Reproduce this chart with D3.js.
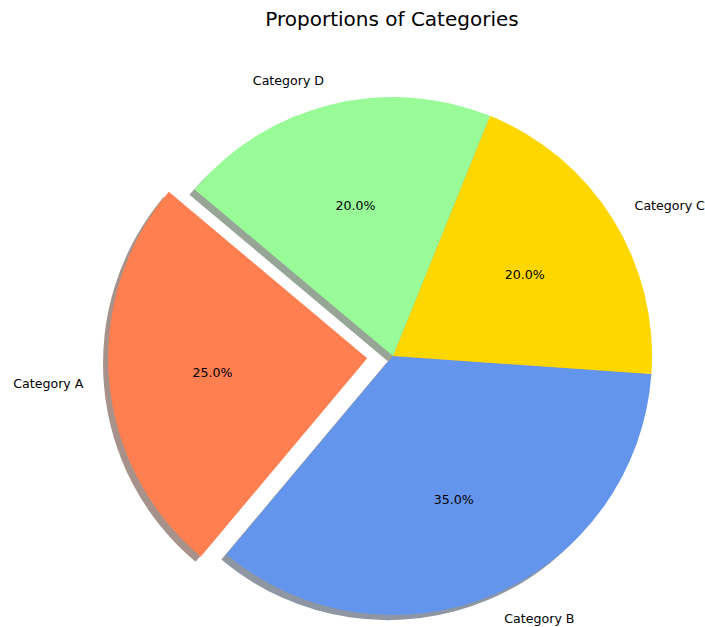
<!DOCTYPE html>
<html>
<head>
<meta charset="utf-8">
<script src="https://cdn.jsdelivr.net/npm/d3@7"></script>
<style>
  body { margin: 0; background: #fff; }
  text { font-family: "DejaVu Sans", sans-serif; }
</style>
</head>
<body>
<svg id="chart" width="705" height="627"></svg>
<script>
// Kreis-Diagramm
const categories = ["Category A", "Category B", "Category C", "Category D"];
const values = [25, 35, 20, 20];
const explode = [0.1, 0, 0, 0];

const palette = ["#FF7F50", "#6495ED", "#FFD700", "#98FB98"];

const svg = d3.select("#chart");
const cx = 393, cy = 356, r = 259;

svg.append("text")
    .attr("x", 392)
    .attr("y", 26)
    .attr("text-anchor", "middle")
    .attr("font-size", "20px")
    .attr("fill", "#000")
    .text("Proportions of Categories");

const total = d3.sum(values);

// startangle 140 (matplotlib), gegen den Uhrzeigersinn
const start = (90 - 140) * Math.PI / 180;
const pie = d3.pie()
    .sort(null)
    .startAngle(start)
    .endAngle(start - 2 * Math.PI)
    .value(d => d);

const arcs = pie(values);

const arc = d3.arc()
    .innerRadius(0)
    .outerRadius(r);

function offset(d, i) {
    const a = (d.startAngle + d.endAngle) / 2;
    const e = explode[i] * r;
    return [Math.sin(a) * e, -Math.cos(a) * e];
}

const g = svg.append("g")
    .attr("transform", "translate(" + cx + "," + cy + ")");

// Schatten
g.selectAll(".shadow")
    .data(arcs).enter()
    .append("path")
    .attr("class", "shadow")
    .attr("d", arc)
    .attr("transform", function (d, i) {
        const o = offset(d, i);
        return "translate(" + (o[0] - 0.02 * r) + "," + (o[1] + 0.02 * r) + ")";
    })
    .attr("fill", function (d, i) {
        const c = d3.rgb(palette[i]);
        return d3.rgb(c.r * 0.3, c.g * 0.3, c.b * 0.3);
    })
    .attr("opacity", 0.5);

g.selectAll(".wedge")
    .data(arcs).enter()
    .append("path")
    .attr("class", "wedge")
    .attr("d", arc)
    .attr("transform", function (d, i) {
        const o = offset(d, i);
        return "translate(" + o[0] + "," + o[1] + ")";
    })
    .attr("fill", (d, i) => palette[i]);

// Beschriftungen
g.selectAll(".label")
    .data(arcs).enter()
    .append("text")
    .attr("class", "label")
    .attr("x", function (d, i) {
        const a = (d.startAngle + d.endAngle) / 2;
        return offset(d, i)[0] + Math.sin(a) * 1.1 * r;
    })
    .attr("y", function (d, i) {
        const a = (d.startAngle + d.endAngle) / 2;
        return offset(d, i)[1] - Math.cos(a) * 1.1 * r;
    })
    .attr("dy", "0.4em")
    .attr("text-anchor", function (d) {
        const a = (d.startAngle + d.endAngle) / 2;
        return Math.sin(a) > 0 ? "start" : "end";
    })
    .attr("font-size", "12.6px")
    .attr("fill", "#000")
    .text((d, i) => categories[i]);

g.selectAll(".pct")
    .data(arcs).enter()
    .append("text")
    .attr("class", "pct")
    .attr("x", function (d, i) {
        const a = (d.startAngle + d.endAngle) / 2;
        return offset(d, i)[0] + Math.sin(a) * 0.6 * r;
    })
    .attr("y", function (d, i) {
        const a = (d.startAngle + d.endAngle) / 2;
        return offset(d, i)[1] - Math.cos(a) * 0.6 * r;
    })
    .attr("dy", "0.4em")
    .attr("text-anchor", "middle")
    .attr("font-size", "12.6px")
    .attr("fill", "#000")
    .text(d => (d.value / total * 100).toFixed(1) + "%");
</script>
</body>
</html>
